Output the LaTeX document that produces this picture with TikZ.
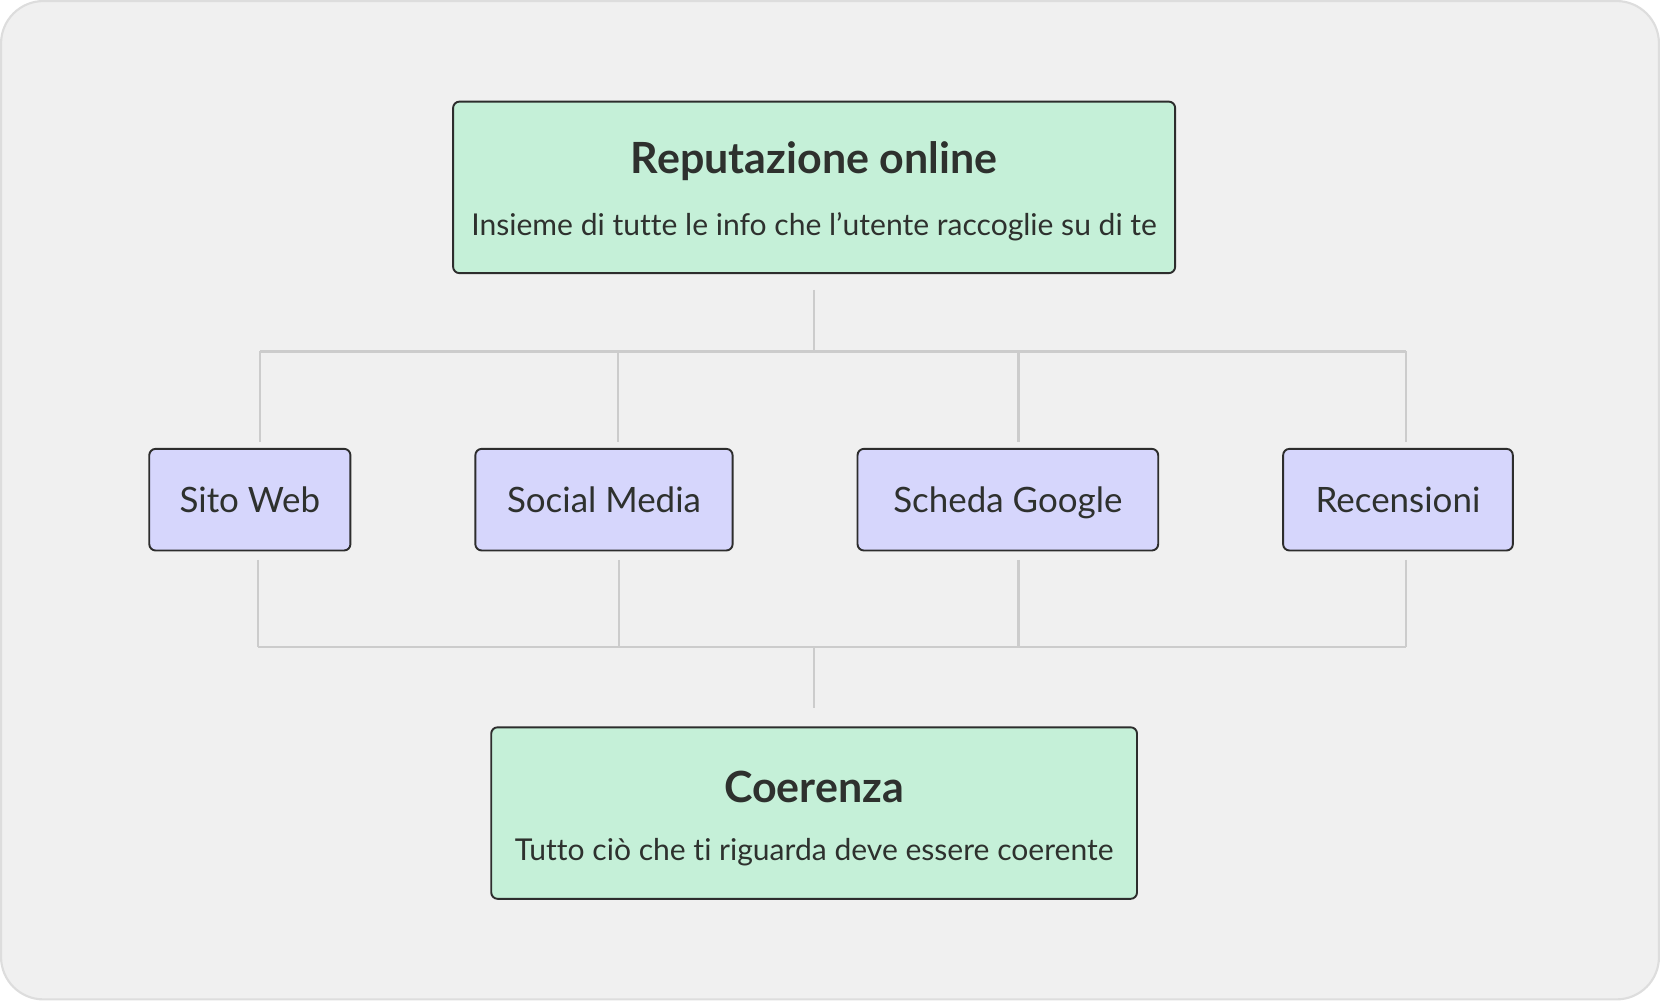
\documentclass[tikz,border=0pt]{standalone}
\usepackage{fontspec}
\setmainfont[Ligatures=NoCommon]{Lato}
\usetikzlibrary{positioning, calc}

\definecolor{bgfill}{HTML}{F0F0F0}
\definecolor{bgline}{HTML}{DDDDDD}
\definecolor{mintfill}{HTML}{C5F0D8}
\definecolor{lilacfill}{HTML}{D6D6FC}
\definecolor{boxline}{HTML}{2D2D2D}
\definecolor{inkcol}{HTML}{2E312E}
\definecolor{linkcol}{HTML}{CCCCCC}

\tikzset{
  mainbox/.style={draw=boxline, line width=0.9pt, fill=mintfill, rounded corners=3pt,
    minimum width=341pt, minimum height=81pt, inner sep=0pt},
  boxhead/.style={text=inkcol, font=\fontsize{20.3}{24}\selectfont\bfseries, inner sep=0pt},
  boxnote/.style={text=inkcol, font=\fontsize{14.2}{17}\selectfont, inner sep=0pt},
  sourcebox/.style={draw=boxline, line width=0.9pt, fill=lilacfill, rounded corners=3pt,
    minimum height=48pt, text=inkcol, font=\fontsize{16.5}{20}\selectfont, inner sep=0pt,
    text height=1.25em, text depth=0em},
  link/.style={draw=linkcol, line width=1pt}
}

\begin{document}
\begin{tikzpicture}[x=0.5pt, y=-0.5pt]
  % background
  \useasboundingbox (0,0) rectangle (1568,945);
  \draw[fill=bgfill, draw=bgline, line width=1pt, rounded corners=20pt] (1,1) rectangle (1567,944);

  % main boxes
  \node[mainbox] (reput) at (769,177) {};
  \node[boxhead] (reputhead) at ($(reput.north)+(0,57)$) {Reputazione online};
  \node[boxnote] (reputnote) at ($(reput.north)+(0,119)$) {Insieme di tutte le info che l’utente raccoglie su di te};

  \node[mainbox, minimum width=305pt] (coer) at (769,768) {};
  \node[boxhead] (coerhead) at ($(coer.north)+(0,57)$) {Coerenza};
  \node[boxnote] (coernote) at ($(coer.north)+(0,119)$) {Tutto ciò che ti riguarda deve essere coerente};

  % sources
  \node[sourcebox, minimum width=95pt] (sito) at (236,472) {Sito Web};
  \node[sourcebox, minimum width=121.5pt] (social) at (570.5,472) {Social Media};
  \node[sourcebox, minimum width=142pt] (scheda) at (952,472) {Scheda Google};
  \node[sourcebox, minimum width=108.5pt] (recens) at (1320.5,472) {Recensioni};

  % junctions
  \coordinate (hubtop) at (769,332);
  \coordinate (t1) at (246,332);
  \coordinate (t2) at (584,332);
  \coordinate (t3) at (962,332);
  \coordinate (t4) at (1328,332);
  \coordinate (hubbot) at (769,611);
  \coordinate (b1) at (244,611);
  \coordinate (b2) at (585,611);
  \coordinate (b3) at (962,611);
  \coordinate (b4) at (1328,611);

  % upper links
  \draw[link, shorten <=7.5pt] (reput) -- (hubtop);
  \draw[link] (t1) -- (t4);
  \draw[link, shorten >=3pt] (t1) -- (t1 |- sito.north);
  \draw[link, shorten >=3pt] (t2) -- (t2 |- social.north);
  \draw[link, shorten >=3pt] (t3) -- (t3 |- scheda.north);
  \draw[link, shorten >=3pt] (t4) -- (t4 |- recens.north);

  % lower links
  \draw[link, shorten <=4pt] (b1 |- sito.south) -- (b1);
  \draw[link, shorten <=4pt] (b2 |- social.south) -- (b2);
  \draw[link, shorten <=4pt] (b3 |- scheda.south) -- (b3);
  \draw[link, shorten <=4pt] (b4 |- recens.south) -- (b4);
  \draw[link] (b1) -- (b4);
  \draw[link, shorten >=8.5pt] (hubbot) -- (coer);
\end{tikzpicture}
\end{document}
